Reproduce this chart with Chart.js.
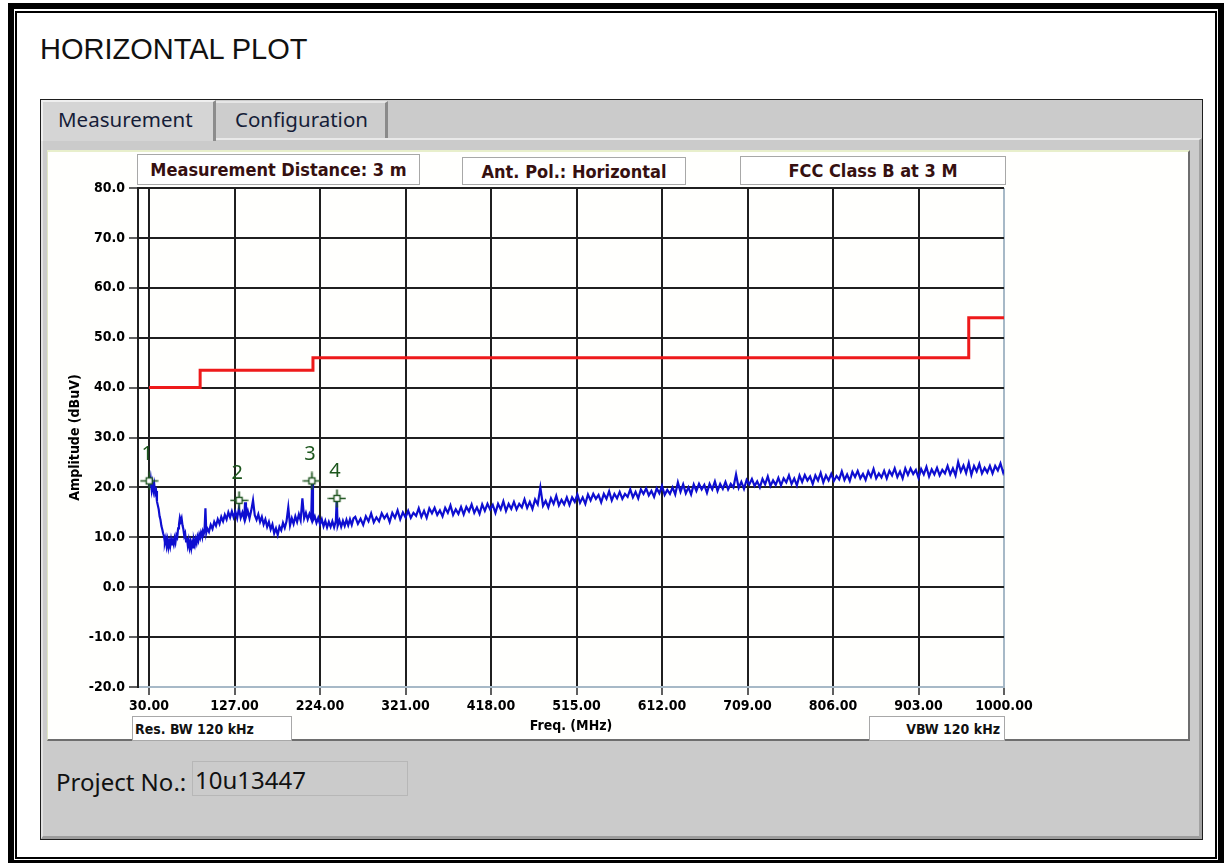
<!DOCTYPE html>
<html>
<head>
<meta charset="utf-8">
<title>HORIZONTAL PLOT</title>
<script src="https://cdn.jsdelivr.net/npm/chart.js@4.4.1/dist/chart.umd.min.js"></script>
<style>
  :root { --bf: "DejaVu Sans Condensed", "DejaVu Sans", sans-serif; --k: 1; }
  html, body { margin:0; padding:0; background:#fff; }
  #page { position:relative; width:1226px; height:863px; overflow:hidden; background:#fff; }
  .abs { position:absolute; box-sizing:border-box; }
  #frameOuter { left:8px; top:3px; right:2px; bottom:-3px; border:6px solid #000; }
  #frameInner { left:15px; top:11px; right:9px; bottom:4px; border:2px solid #000; }
  #title { left:40px; top:35px; font:29px/1 "Liberation Sans", Arial, sans-serif; color:#111; white-space:nowrap; }
  #panel { left:40px; top:99px; width:1163px; height:741px; background:#cbcbcb; border:1px solid #1e1e1e; }
  #tabpage { left:41px; top:138px; width:1161px; height:701px; border-top:2px solid #e9e9e9; border-left:2px solid #e2e2e2; border-right:3px solid #a2a2a2; border-bottom:3px solid #9c9c9c; }
  #tab1 { left:41px; top:100px; width:175px; height:41px; background:#d5d5d5; border-left:2px solid #efefef; border-top:2px solid #efefef; border-right:3px solid #8c8c8c; }
  #tab2 { left:216px; top:101px; width:172px; height:37px; background:#cdcdcd; border-top:2px solid #e6e6e6; border-right:3px solid #8a8a8a; }
  .tabtext { font:20.5px/1 "Noto Sans", sans-serif; color:#151d38; white-space:nowrap; }
  #content { left:47px; top:150px; width:1143px; height:591px; background:#fffffd; border-top:2px solid #e8efcb; border-left:1px solid #dfe6c4; border-right:2px solid #6e6e6e; border-bottom:2px solid #6e6e6e; }
  .hbox { background:#fff; border:1px solid #a8a8a8; display:flex; align-items:center; justify-content:center; font-weight:bold; color:#361010; white-space:nowrap; font-family:var(--bf); font-size:calc(18px * var(--k)); }
  .bbox { background:#fff; border:1px solid #a8a8a8; display:flex; align-items:center; font-weight:bold; color:#111; white-space:nowrap; font-family:var(--bf); font-size:calc(14px * var(--k)); }
  #hb1 { left:137px; top:154px; width:283px; height:31px; }
  #hb2 { left:462px; top:157px; width:224px; height:28px; }
  #hb3 { left:740px; top:156px; width:266px; height:29px; }
  #bb1 { left:132px; top:716px; width:160px; height:25px; padding-left:2px; }
  #bb2 { left:869px; top:716px; width:136px; height:25px; justify-content:flex-end; padding-right:4px; }
  .ptext { font:24px/1 "Noto Sans", sans-serif; color:#111; white-space:nowrap; }
  #projBox { left:192px; top:761px; width:216px; height:35px; background:#cbcbcb; border:1px solid #b7b7b7; }
  #c { position:absolute; left:0; top:0; }
</style>
</head>
<body>
<div id="page">
  <div id="frameOuter" class="abs"></div>
  <div id="frameInner" class="abs"></div>
  <div id="title" class="abs">HORIZONTAL PLOT</div>
  <div id="panel" class="abs"></div>
  <div id="tabpage" class="abs"></div>
  <div id="tab2" class="abs"></div>
  <div id="tab1" class="abs"></div>
  <div class="abs tabtext" style="left:58px; top:108.5px;">Measurement</div>
  <div class="abs tabtext" style="left:235px; top:108.5px;">Configuration</div>
  <div id="content" class="abs"></div>
  <div id="hb1" class="abs hbox">Measurement Distance: 3 m</div>
  <div id="hb2" class="abs hbox">Ant. Pol.: Horizontal</div>
  <div id="hb3" class="abs hbox">FCC Class B at 3 M</div>
  <div id="bb1" class="abs bbox">Res. BW 120 kHz</div>
  <div id="bb2" class="abs bbox">VBW 120 kHz</div>
  <div class="abs ptext" style="left:56px; top:770px;">Project No.:</div>
  <div id="projBox" class="abs"></div>
  <div class="abs ptext" style="left:195px; top:768px;">10u13447</div>
  <canvas id="c" width="1226" height="863"></canvas>
</div>
<script>
// ---------------- data ----------------
const xTickValues = [30, 127, 224, 321, 418, 515, 612, 709, 806, 903, 1000];
const xTitle = 'Freq. (MHz)';
const yTitle = 'Amplitude (dBuV)';

// FCC Class B limit at 3 m (MHz, dBuV)
const limitFreq  = [30, 88, 88, 216, 216, 960, 960, 1000];
const limitLevel = [40.0, 40.0, 43.5, 43.5, 46.0, 46.0, 54.0, 54.0];

// markers
const markerLabels = ['1', '2', '3', '4'];
const markerFreq   = [30.2, 132.2, 214.8, 243.2];
const markerLevel  = [21.3, 17.4, 21.3, 17.8];

// measured horizontal trace, frequencies (MHz)
const traceFreq = [
  30, 31, 32, 33, 34, 35, 36, 37, 38, 39,
  40, 41, 42, 43, 44, 45, 46, 47, 48, 49,
  50, 51, 52, 53, 54, 55, 56, 57, 58, 59,
  60, 61, 62, 63, 64, 65, 66, 67, 68, 69,
  70, 71, 72, 73, 74, 75, 76, 77, 78, 79,
  80, 81, 82, 83, 84, 85, 86, 87, 88, 89,
  90, 91, 92, 93, 94, 95, 96,
  98, 100, 102, 104, 106, 108, 110, 112, 114, 116,
  118, 120, 122, 124, 126, 128, 130, 132, 134, 136,
  138, 139, 140, 142, 144, 146, 148, 150, 152, 154,
  156, 158, 160, 162, 164, 166, 168, 170, 172, 174,
  176, 178, 180, 182, 184, 186, 188, 190, 192, 194,
  196, 198, 200, 202, 204, 206, 208, 210, 212, 214,
  215, 216, 218, 220, 222, 224, 226, 228, 230, 232,
  234, 236, 238, 240, 242, 243, 244, 246, 248, 250,
  252, 254, 256, 258, 260, 262,
  264, 267, 270, 273, 276, 279, 282, 285, 288, 291,
  294, 297, 300, 303, 306, 309, 312, 315, 318, 321,
  324, 327, 330, 333, 336, 339, 342, 345, 348, 351,
  354, 357, 360, 363, 366, 369, 372, 375, 378, 381,
  384, 387, 390, 393, 396, 399, 402, 405, 408, 411,
  414, 417, 420, 423, 426, 429, 432, 435, 438, 441,
  444, 447, 450, 453, 456, 459, 462, 465, 468, 471,
  474, 477, 480, 483, 486, 489, 492, 495, 498, 501,
  504, 507, 510, 513, 516, 519, 522, 525, 528, 531,
  534, 537, 540, 543, 546, 549, 552, 555, 558, 561,
  564, 567, 570, 573, 576, 579, 582, 585, 588, 591,
  594, 597, 600, 603, 606, 609, 612, 615, 618, 621,
  624, 627, 630, 633, 636, 639, 642, 645, 648, 651,
  654, 657, 660, 663, 666, 669, 672, 675, 678, 681,
  684, 687, 690, 693, 696, 699, 702, 705, 708, 711,
  714, 717, 720, 723, 726, 729, 732, 735, 738, 741,
  744, 747, 750, 753, 756, 759, 762, 765, 768, 771,
  774, 777, 780, 783, 786, 789, 792, 795, 798, 801,
  804, 807, 810, 813, 816, 819, 822, 825, 828, 831,
  834, 837, 840, 843, 846, 849, 852, 855, 858, 861,
  864, 867, 870, 873, 876, 879, 882, 885, 888, 891,
  894, 897, 900, 903, 906, 909, 912, 915, 918, 921,
  924, 927, 930, 933, 936, 939, 942, 945, 948, 951,
  954, 957, 960, 963, 966, 969, 972, 975, 978, 981,
  984, 987, 990, 993, 996, 999, 1000
];
// measured horizontal trace, levels (dBuV)
const traceLevel = [
  21.2, 20.0, 21.5, 19.6, 20.8, 19.4, 20.5, 18.8, 19.3, 17.2,
  16.4, 15.6, 14.2, 13.5, 12.3, 11.6, 10.8, 10.2, 9.0, 9.8,
  8.3, 9.4, 8.0, 9.1, 8.2, 9.5, 8.4, 9.3, 8.6, 9.8,
  9.0, 10.4, 10.0, 11.8, 12.6, 13.9, 13.2, 13.8, 12.4, 11.6,
  10.3, 10.8, 9.2, 9.9, 8.4, 9.4, 8.0, 9.0, 7.8, 8.9,
  8.0, 9.3, 8.5, 9.6, 8.9, 10.1, 9.4, 10.5, 9.9, 10.9,
  10.3, 11.2, 10.6, 11.4, 15.8, 11.0, 11.8,
  11.1, 12.5, 11.7, 13.1, 12.3, 13.6, 12.7, 14.1, 13.2, 14.5,
  13.6, 15.0, 14.0, 15.2, 14.0, 15.1, 13.8, 15.8, 13.9, 15.0,
  13.7, 17.0, 14.1, 15.3, 13.8, 15.4, 17.4, 14.4, 13.5, 14.6,
  13.1, 14.1, 12.6, 13.6, 12.1, 13.1, 11.6, 12.6, 10.8, 11.8,
  10.5, 12.1, 11.4, 12.9, 11.9, 13.2, 16.0, 12.4, 13.8, 12.7,
  14.2, 13.1, 14.6, 13.4, 17.8, 13.8, 14.9, 13.6, 14.7, 13.7,
  21.1, 13.4, 14.2, 12.9, 13.9, 12.6, 13.6, 12.2, 13.3, 12.0,
  13.1, 12.1, 13.2, 12.0, 13.3, 17.7, 12.3, 13.4, 12.1, 13.3,
  12.3, 13.5, 12.4, 13.6, 12.5, 13.8,
  14.1, 12.7, 13.7, 12.5, 14.2, 13.2, 14.8, 13.0, 14.0, 13.2,
  14.8, 13.8, 14.6, 13.1, 14.9, 13.9, 15.4, 13.6, 15.0, 14.0,
  15.3, 13.9, 14.9, 14.3, 15.8, 14.1, 15.3, 13.9, 15.8, 14.8,
  15.9, 14.5, 15.4, 14.2, 15.9, 14.9, 16.4, 14.5, 15.6, 14.7,
  16.1, 14.6, 16.1, 15.2, 16.6, 14.9, 16.0, 14.7, 16.6, 15.3,
  16.7, 15.6, 16.5, 14.9, 16.7, 15.6, 17.2, 15.3, 16.7, 15.7,
  17.1, 15.6, 16.7, 16.0, 17.6, 15.9, 17.1, 15.7, 17.6, 16.6,
  20.0, 16.3, 17.3, 16.0, 17.8, 16.7, 18.3, 16.4, 17.5, 16.6,
  18.0, 16.5, 18.0, 17.1, 18.6, 16.9, 18.0, 16.7, 18.6, 17.4,
  18.7, 17.7, 18.5, 17.0, 18.7, 17.7, 19.2, 17.4, 18.7, 17.8,
  19.1, 17.7, 18.7, 18.1, 19.6, 18.0, 19.1, 17.8, 19.6, 18.7,
  19.8, 18.4, 19.3, 18.1, 19.8, 18.8, 20.3, 18.5, 19.5, 18.7,
  20.0, 18.6, 21.0, 19.1, 20.6, 18.8, 20.0, 18.6, 20.6, 19.3,
  20.7, 19.6, 20.5, 18.9, 20.7, 19.6, 21.2, 19.3, 20.7, 19.7,
  21.1, 19.6, 20.7, 20.0, 22.6, 19.9, 21.1, 19.7, 21.5, 20.6,
  21.7, 20.3, 21.2, 20.0, 21.7, 20.6, 22.2, 20.3, 21.4, 20.5,
  21.9, 20.4, 21.8, 21.0, 22.4, 20.7, 21.8, 20.4, 22.4, 21.1,
  22.5, 21.4, 22.2, 20.7, 22.4, 21.4, 22.9, 21.0, 22.4, 21.4,
  22.7, 21.3, 22.3, 21.6, 23.2, 21.5, 22.6, 21.3, 23.1, 22.1,
  23.3, 21.8, 22.7, 21.5, 23.2, 22.1, 23.7, 21.8, 22.8, 22.0,
  23.3, 21.8, 23.3, 22.4, 23.8, 22.1, 23.2, 21.8, 23.8, 22.5,
  23.8, 22.7, 23.5, 21.9, 23.7, 22.6, 24.1, 22.2, 23.6, 22.6,
  23.9, 22.4, 23.5, 22.8, 24.3, 22.6, 23.8, 22.4, 25.1, 23.2,
  24.4, 22.9, 24.9, 22.5, 24.3, 23.2, 24.7, 22.8, 23.9, 23.0,
  24.3, 22.8, 24.3, 23.4, 24.8, 23.0, 23.6
];

// ---------------- fonts ----------------
function hasFont(name) {
  const g = document.createElement('canvas').getContext('2d');
  const s = 'Measurement Distance 1000.00 mmmwwwiii';
  g.font = 'bold 40px monospace';
  const a = g.measureText(s).width;
  g.font = 'bold 40px "' + name + '", monospace';
  const b = g.measureText(s).width;
  return Math.abs(a - b) > 0.5;
}
const COND = hasFont('DejaVu Sans Condensed');
const BF = COND ? '"DejaVu Sans Condensed", "DejaVu Sans", sans-serif' : '"DejaVu Sans", sans-serif';
const K = COND ? 1 : 0.9;
document.documentElement.style.setProperty('--bf', BF);
document.documentElement.style.setProperty('--k', String(K));

// ---------------- marker symbol ----------------
function makeMarker() {
  const c = document.createElement('canvas');
  c.width = 19; c.height = 19;
  const g = c.getContext('2d');
  g.strokeStyle = '#1f551f';
  g.lineWidth = 1.7;
  g.beginPath();
  g.moveTo(0.5, 9.5); g.lineTo(18.5, 9.5);
  g.moveTo(9.5, 0.5); g.lineTo(9.5, 18.5);
  g.stroke();
  g.fillStyle = '#ffffff';
  g.fillRect(6.5, 6.5, 6, 6);
  g.lineWidth = 1.4;
  g.strokeRect(6.5, 6.5, 6, 6);
  return c;
}
const markerImg = makeMarker();

const markerLabelPlugin = {
  id: 'markerLabels',
  afterDatasetsDraw(chart) {
    const meta = chart.getDatasetMeta(0);
    const ctx = chart.ctx;
    ctx.save();
    ctx.font = '20px "Noto Sans", sans-serif';
    ctx.fillStyle = '#1c561c';
    ctx.textAlign = 'center';
    ctx.textBaseline = 'middle';
    meta.data.forEach((pt, i) => ctx.fillText(markerLabels[i], pt.x - 2, pt.y - 27));
    ctx.restore();
  }
};

const GRID = '#1f1f1f';
const EDGE = '#a7b9c7';
const tickFont = { family: BF, size: 14 * K, weight: 'bold' };

new Chart(document.getElementById('c'), {
  type: 'line',
  data: {
    datasets: [
      {
        label: 'Markers',
        data: markerFreq.map((f, i) => ({ x: f, y: markerLevel[i] })),
        showLine: false,
        pointStyle: markerImg,
        pointRadius: 10
      },
      {
        label: 'Horizontal',
        data: traceFreq.map((f, i) => ({ x: f, y: traceLevel[i] })),
        borderColor: '#0e0ed0',
        borderWidth: 2.2,
        pointRadius: 0,
        tension: 0
      },
      {
        label: 'FCC Class B at 3 M',
        data: limitFreq.map((f, i) => ({ x: f, y: limitLevel[i] })),
        borderColor: '#ee1a1a',
        borderWidth: 3,
        pointRadius: 0,
        tension: 0
      }
    ]
  },
  options: {
    responsive: false,
    animation: false,
    devicePixelRatio: 1,
    events: [],
    layout: { padding: { left: 60, top: 188, right: 222, bottom: 126 } },
    plugins: { legend: { display: false }, tooltip: { enabled: false } },
    scales: {
      x: {
        type: 'linear',
        min: 17.5,
        max: 1000,
        afterBuildTicks: s => { s.ticks = xTickValues.map(v => ({ value: v })); },
        afterFit: s => { s.height = 50; },
        ticks: {
          autoSkip: false, maxRotation: 0, padding: 3, color: '#000', font: tickFont,
          callback: v => Number(v).toFixed(2)
        },
        grid: {
          color: c => (c.tick && c.tick.value === 1000) ? EDGE : GRID,
          lineWidth: 2, tickLength: 8, tickColor: '#2a2a2a', tickWidth: 1.5
        },
        border: { display: true, color: EDGE, width: 2 },
        title: { display: true, text: xTitle, color: '#000', font: tickFont, padding: { top: 0, bottom: 2 } }
      },
      y: {
        min: -20,
        max: 80,
        afterFit: s => { s.width = 78; },
        ticks: {
          stepSize: 10, padding: 4, color: '#000', font: tickFont,
          callback: v => Number(v).toFixed(1)
        },
        grid: {
          color: c => (c.tick && c.tick.value === -20) ? EDGE : GRID,
          lineWidth: 2, tickLength: 9, tickColor: '#2a2a2a', tickWidth: 1.5
        },
        border: { display: true, color: GRID, width: 2 },
        title: { display: true, text: yTitle, color: '#000', font: tickFont, padding: { top: 6.6, bottom: 0 } }
      }
    }
  },
  plugins: [markerLabelPlugin]
});
</script>
</body>
</html>
